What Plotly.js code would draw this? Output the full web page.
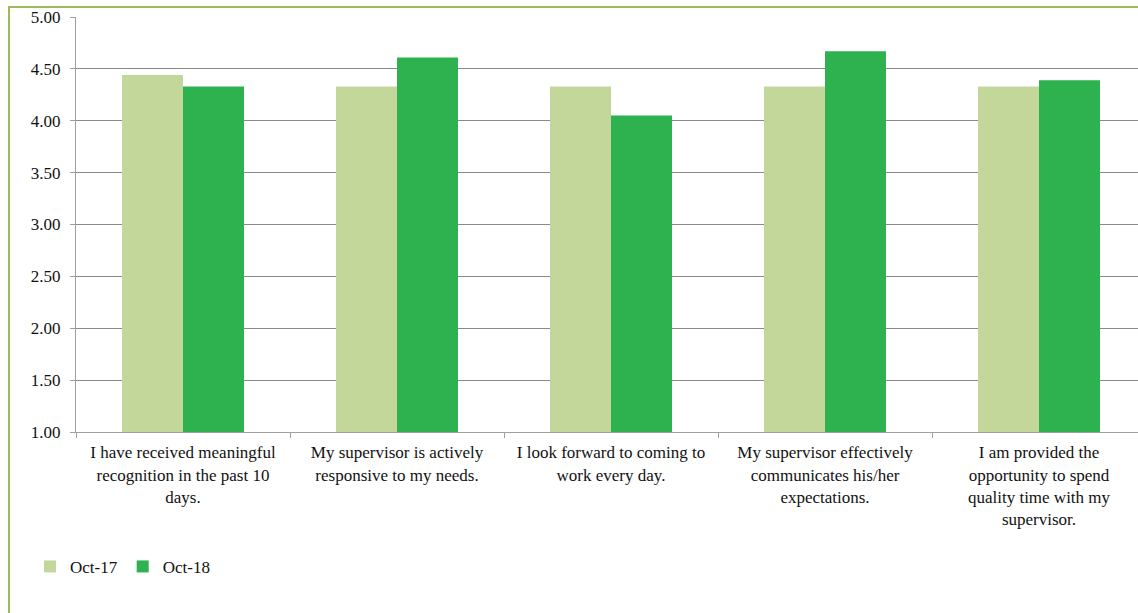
<!DOCTYPE html>
<html><head><meta charset="utf-8">
<script src="https://cdn.plot.ly/plotly-3.0.1.min.js"></script>
<style>
html,body{margin:0;padding:0;overflow:hidden;background:#fff;width:1138px;height:613px;}
#frame{position:absolute;left:8px;top:6px;width:1200px;height:700px;border-left:2px solid #9BBB59;border-top:2px solid #9BBB59;pointer-events:none;}
#chart{position:absolute;left:0;top:0;width:1150px;height:613px;}
</style></head>
<body>
<div id="chart"></div>
<div id="frame"></div>
<script>
const categories = [
  "I have received meaningful<br>recognition in the past 10<br>days.",
  "My supervisor is actively<br>responsive to my needs.",
  "I look forward to coming to<br>work every day.",
  "My supervisor effectively<br>communicates his/her<br>expectations.",
  "I am provided the<br>opportunity to spend<br>quality time with my<br>supervisor."
];
const oct17 = [4.44, 4.33, 4.33, 4.33, 4.33];
const oct18 = [4.33, 4.61, 4.05, 4.67, 4.39];
const seriesNames = ["Oct-17", "Oct-18"];

const font = "'Liberation Serif', 'DejaVu Serif', serif";
const traces = [
  {type:"bar", name:seriesNames[0], x:categories, y:oct17, marker:{color:"#C4D79B"}},
  {type:"bar", name:seriesNames[1], x:categories, y:oct18, marker:{color:"#2DB24F"}}
];
const layout = {
  width:1150, height:613,
  margin:{l:76, r:4, t:17, b:181},
  barmode:"group", bargap:0.43, bargroupgap:0,
  paper_bgcolor:"rgba(0,0,0,0)", plot_bgcolor:"#fff",
  font:{family:font, size:17, color:"#111"},
  yaxis:{range:[1,5], dtick:0.5, tickformat:".2f", showgrid:true, gridcolor:"#8A8A8A", gridwidth:1,
    showline:true, linecolor:"#A0A0A0", linewidth:1, ticks:"outside", ticklen:5, tickcolor:"#A0A0A0",
    ticklabelstandoff:6,
    zeroline:false, tickfont:{family:font, size:17, color:"#111"}},
  xaxis:{type:"category", showline:true, linecolor:"#A0A0A0", linewidth:1, ticks:"outside", ticklen:5,
    tickcolor:"#A0A0A0", tickson:"boundaries", showgrid:false, tickangle:0, ticklabelstandoff:5,
    tickfont:{family:font, size:17, color:"#111"}},
  showlegend:true,
  legend:{orientation:"h", x:-0.043, xanchor:"left", y:-0.325, yanchor:"middle",
    font:{family:font, size:17, color:"#111"}, itemwidth:30, traceorder:"normal"}
};
Plotly.newPlot("chart", traces, layout, {displayModeBar:false, staticPlot:true});
</script>
</body></html>
